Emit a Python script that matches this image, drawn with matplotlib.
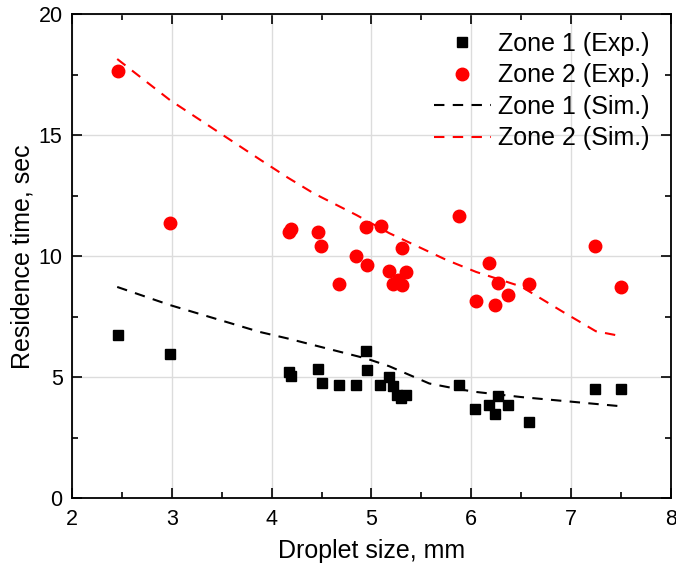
import matplotlib
matplotlib.use("Agg")
import matplotlib.pyplot as plt
from matplotlib.ticker import MultipleLocator

plt.rcParams["font.family"] = ["Liberation Sans", "DejaVu Sans"]

# Experimental data (droplet size mm, residence time s)
zone1_x = [2.46, 2.98, 4.17, 4.19, 4.46, 4.50, 4.67, 4.84, 4.95, 4.96, 5.09, 5.18,
           5.22, 5.26, 5.30, 5.35, 5.88, 6.04, 6.18, 6.24, 6.27, 6.37, 6.58, 7.24, 7.50]
zone1_y = [6.74, 5.95, 5.20, 5.05, 5.33, 4.74, 4.67, 4.67, 6.07, 5.29, 4.67, 5.01,
           4.63, 4.26, 4.16, 4.28, 4.66, 3.69, 3.87, 3.48, 4.23, 3.87, 3.14, 4.53, 4.53]

zone2_x = [2.46, 2.98, 4.17, 4.19, 4.46, 4.49, 4.67, 4.84, 4.95, 4.96, 5.10, 5.18,
           5.22, 5.27, 5.31, 5.31, 5.35, 5.88, 6.05, 6.18, 6.24, 6.27, 6.37, 6.58, 7.24, 7.50]
zone2_y = [17.67, 11.38, 10.99, 11.13, 10.99, 10.44, 8.86, 9.99, 11.20, 9.64, 11.25, 9.38,
           8.87, 9.00, 8.80, 10.32, 9.33, 11.65, 8.13, 9.70, 8.00, 8.91, 8.39, 8.86, 10.44, 8.73]

# Simulation curves
sim1_x = [2.45, 2.98, 3.88, 4.16, 4.95, 5.18, 5.58, 5.88, 6.05, 6.50, 6.92, 7.50]
sim1_y = [8.73, 7.98, 6.87, 6.60, 5.77, 5.45, 4.74, 4.50, 4.39, 4.18, 4.02, 3.80]

sim2_x = [2.45, 2.98, 3.88, 4.16, 4.42, 4.85, 5.18, 5.75, 6.05, 6.50, 6.92, 7.25, 7.50]
sim2_y = [18.15, 16.45, 14.00, 13.25, 12.60, 11.70, 10.95, 9.85, 9.35, 8.75, 7.70, 6.90, 6.70]

fig = plt.figure(figsize=(6.76, 5.70), dpi=100)
ax = fig.add_axes([0.107, 0.126, 0.885, 0.849])

ax.plot(zone1_x, zone1_y, "s", color="black", markersize=7.3, label="Zone 1 (Exp.)", zorder=3)
ax.plot(zone2_x, zone2_y, "o", color="red", markersize=9, label="Zone 2 (Exp.)", zorder=3)
ax.plot(sim1_x, sim1_y, color="black", linestyle=(0, (5, 4)), linewidth=1.5, label="Zone 1 (Sim.)")
ax.plot(sim2_x, sim2_y, color="red", linestyle=(0, (5, 4)), linewidth=1.5, label="Zone 2 (Sim.)")

ax.set_xlim(2, 8)
ax.set_ylim(0, 20)
ax.xaxis.set_major_locator(MultipleLocator(1))
ax.xaxis.set_minor_locator(MultipleLocator(0.5))
ax.yaxis.set_major_locator(MultipleLocator(5))
ax.yaxis.set_minor_locator(MultipleLocator(2.5))
ax.tick_params(which="both", direction="in", top=True, right=True, labelsize=15.5, width=1.2)
ax.tick_params(which="major", length=7)
ax.tick_params(which="minor", length=4)
ax.tick_params(axis="x", pad=8)
ax.tick_params(axis="y", pad=7)
for s in ax.spines.values():
    s.set_linewidth(1.3)
ax.grid(True, which="major", color="#dcdcdc", linewidth=1)
ax.set_axisbelow(True)

ax.set_xlabel("Droplet size, mm", fontsize=18, labelpad=6)
ax.set_ylabel("Residence time, sec", fontsize=18, labelpad=3)

ax.legend(loc="upper right", frameon=False, fontsize=18, handlelength=2.3,
          handletextpad=0.28, labelspacing=0.3, borderaxespad=0.3, bbox_to_anchor=(0.994, 1.0))

fig.savefig("out.png", dpi=100)
